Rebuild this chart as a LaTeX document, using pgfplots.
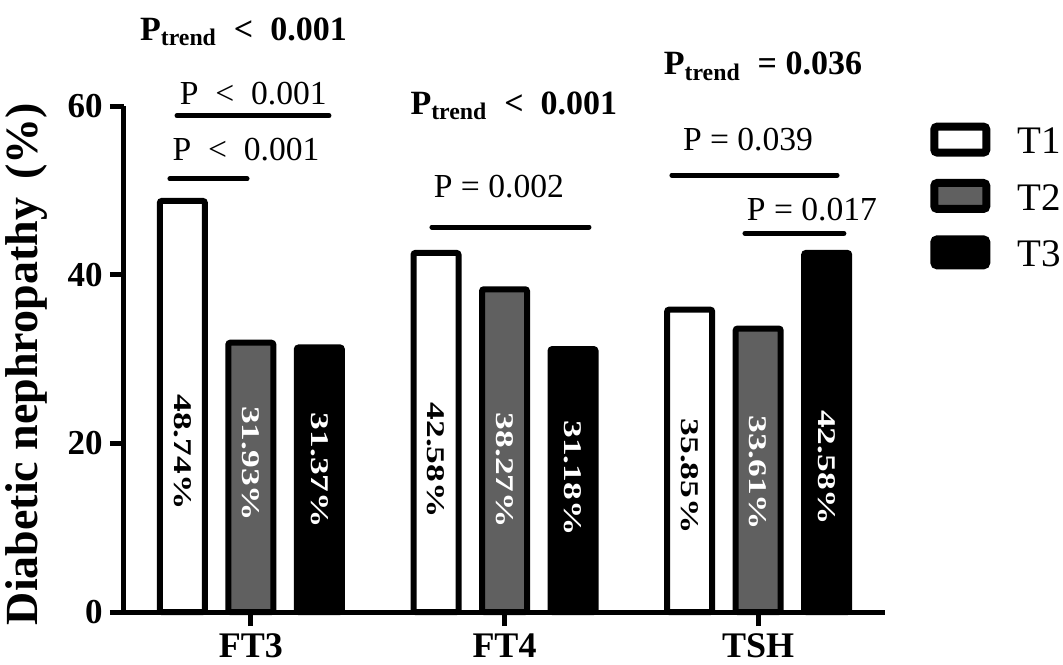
\documentclass[border=0pt]{standalone}
\usepackage{fontspec}
\setmainfont{Liberation Serif}
\usepackage{pgfplots}
\pgfplotsset{compat=1.18}
\definecolor{midgray}{RGB}{96,96,96}

% rotated, condensed percentage inside a bar
\newcommand\barlab[5]{\node[text=#5, font=\fontsize{17.7}{20}\selectfont\bfseries, inner sep=0pt, xshift=#2]
  at (axis cs:#1,#3) {\rotatebox{-90}{\scalebox{1}[0.72]{#4}}};}
\newcommand\pval[3]{\node[font=\fontsize{16.8}{19}\selectfont, inner sep=0pt] at (axis cs:#1,#2) {#3};}
\newcommand\ptrend[3]{\node[font=\fontsize{17}{19}\selectfont\bfseries, inner sep=0pt] at (axis cs:#1,#2) {P\textsubscript{trend}\enspace#3};}
\newcommand\bracket[3]{\draw[line width=2.5pt, line cap=round] (axis cs:#1,#3) -- (axis cs:#2,#3);}

\begin{document}
\begin{tikzpicture}
\begin{axis}[
  scale only axis, width=380.5pt, height=253pt,
  xmin=0.5, xmax=3.5, ymin=0, ymax=60,
  clip=false,
  axis x line*=bottom, axis y line*=left,
  axis line style={-, line width=2.5pt},
  ytick={0,20,40,60}, xtick={1,2,3}, xticklabels={FT3,FT4,TSH},
  tick align=outside, major tick length=7pt,
  tick style={line width=2.5pt, black},
  /pgf/number format/assume math mode=true,
  yticklabel style={font=\fontsize{17.5}{20}\selectfont\bfseries, inner sep=0pt, xshift=-3.5pt},
  xticklabel style={font=\fontsize{18}{20}\selectfont\bfseries, inner sep=0pt, yshift=-3.5pt},
  ylabel={Diabetic nephropathy\hspace{0.4em}(\%)},
  ylabel style={font=\fontsize{23}{25}\selectfont\bfseries, at={(axis description cs:-0.1275,0.49)}, anchor=center},
  ybar, bar width=22.5pt,
  every axis plot/.append style={line width=3pt, rounded corners=1pt},
  legend image code/.code={\draw[#1, line width=4pt, rounded corners=1.5pt] (0pt,-5pt) rectangle (26pt,8pt);
    \path[draw=none, fill=none] (0pt,0pt) -- (29.5pt,0pt);},
  legend style={at={(1.059,0.968)}, anchor=north west, draw=none, fill=none, inner sep=0pt,
    font=\fontsize{19.5}{21}\selectfont, row sep=11pt, column sep=12pt,
    nodes={inner sep=0pt}},
  legend cell align=left,
]
\addplot[fill=white, draw=black, bar shift=-34.25pt] coordinates {(1,48.74) (2,42.58) (3,35.85)};
\addlegendentry{T1}
\addplot[fill=midgray, draw=black, bar shift=0pt] coordinates {(1,31.93) (2,38.27) (3,33.61)};
\addlegendentry{T2}
\addplot[fill=black, draw=black, bar shift=34.25pt] coordinates {(1,31.37) (2,31.18) (3,42.58)};
\addlegendentry{T3}

\barlab{1}{-34.25pt}{18.97}{48.74\%}{black}
\barlab{1}{0pt}{17.6}{31.93\%}{white}
\barlab{1}{34.25pt}{16.8}{31.37\%}{white}
\barlab{2}{-34.25pt}{18.0}{42.58\%}{black}
\barlab{2}{0pt}{16.8}{38.27\%}{white}
\barlab{2}{34.25pt}{15.9}{31.18\%}{white}
\barlab{3}{-34.25pt}{16.1}{35.85\%}{black}
\barlab{3}{0pt}{16.5}{33.61\%}{white}
\barlab{3}{34.25pt}{17.1}{42.58\%}{white}

\ptrend{0.971}{68.8}{<\enspace0.001}
\pval{1.010}{61.5}{P\enspace<\enspace0.001}
\bracket{0.709}{1.308}{58.85}
\pval{0.981}{54.8}{P\enspace<\enspace0.001}
\bracket{0.681}{0.985}{51.35}

\ptrend{2.037}{60.0}{<\enspace0.001}
\pval{1.978}{50.4}{P = 0.002}
\bracket{1.714}{2.333}{45.65}

\ptrend{3.019}{64.7}{= 0.036}
\pval{2.960}{55.97}{P = 0.039}
\bracket{2.660}{3.311}{51.8}
\pval{3.212}{47.7}{P = 0.017}
\bracket{2.948}{3.338}{44.9}
\end{axis}
\pgfresetboundingbox
\path[use as bounding box] (-62pt,-26pt) rectangle (469.5pt,306pt);
\end{tikzpicture}
\end{document}
